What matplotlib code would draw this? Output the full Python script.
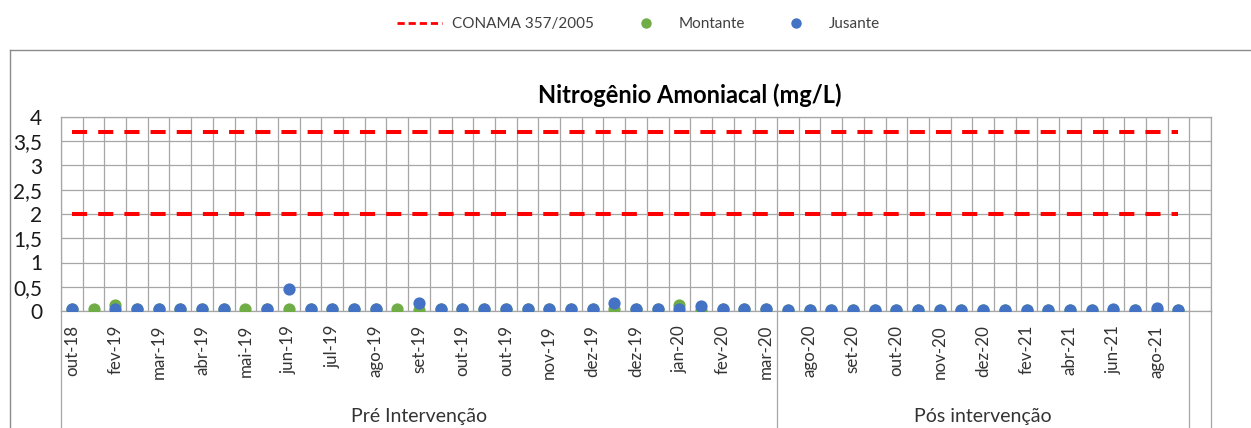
import numpy as np
import matplotlib.pyplot as plt
from matplotlib.lines import Line2D

plt.rcParams['font.family'] = ['Lato', 'DejaVu Sans']

# rótulos visíveis do eixo (Excel mostra um a cada duas campanhas)
tick_labels = ['out-18', 'fev-19', 'mar-19', 'abr-19', 'mai-19', 'jun-19', 'jul-19',
               'ago-19', 'set-19', 'out-19', 'out-19', 'nov-19', 'dez-19', 'dez-19',
               'jan-20', 'fev-20', 'mar-20', 'ago-20', 'set-20', 'out-20', 'nov-20',
               'dez-20', 'fev-21', 'abr-21', 'jun-21', 'ago-21']
groups = ['Pré Intervenção', 'Pós intervenção']
group_sizes = [33, 19]
n_slots = 53  # the sheet has one empty category at the end

nan = np.nan
montante = [0.05, 0.05, 0.12, 0.05, 0.05, 0.05, 0.05, 0.05, 0.05, 0.05,
            0.05, 0.05, 0.05, 0.05, 0.05, 0.05, 0.03, 0.05, 0.05, 0.05,
            0.05, 0.05, 0.05, 0.05, 0.05, 0.05, 0.05, 0.05, 0.12, 0.03,
            0.05, 0.05, 0.05, 0.02, 0.02, 0.02, 0.02, 0.02, 0.02, 0.02,
            0.02, 0.02, 0.02, 0.02, 0.02, 0.02, 0.02, 0.02, 0.02, 0.02,
            0.02, 0.02]
jusante = [0.05, nan, 0.05, 0.05, 0.05, 0.05, 0.05, 0.05, nan, 0.05,
           0.45, 0.05, 0.05, 0.05, 0.05, nan, 0.17, 0.05, 0.05, 0.05,
           0.05, 0.05, 0.05, 0.05, 0.05, 0.17, 0.05, 0.05, 0.05, 0.10,
           0.05, 0.05, 0.05, 0.02, 0.02, 0.02, 0.02, 0.02, 0.02, 0.02,
           0.02, 0.02, 0.02, 0.02, 0.02, 0.02, 0.02, 0.02, 0.05, 0.02,
           0.06, 0.02]
conama_limits = [3.7, 2.0]

W, H = 1251, 428
grid_c = '#A6A6A6'
red = '#FF0000'
green = '#70AD47'
blue = '#4472C4'


def fx(px):
    return px / W


def fy(py):
    return 1 - py / H


fig = plt.figure(figsize=(W / 100, H / 100), dpi=100)
ax = fig.add_axes([fx(61), fy(311), fx(1211) - fx(61), fy(117) - fy(311)])

x = np.arange(len(jusante))
for lim in conama_limits:
    ax.plot(x, [lim] * len(x), color=red, lw=2.9, linestyle=(0, (3.75, 2.75)), zorder=3)
ax.plot(x, montante, 'o', color=green, ms=8.8, mec='none', zorder=4)
ax.plot(x, jusante, 'o', color=blue, ms=8.8, mec='none', zorder=5)

ax.set_xlim(-0.5, n_slots - 0.5)
ax.set_ylim(0, 4)
yt = np.arange(0, 4.01, 0.5)
ax.set_yticks(yt)
ax.set_yticklabels([f'{v:g}'.replace('.', ',') for v in yt])
ax.set_xticks(np.arange(0, 2 * len(tick_labels), 2))
ax.set_xticklabels(tick_labels, rotation=90)
ax.set_xticks(np.arange(-0.5, n_slots), minor=True)
ax.grid(which='minor', axis='x', color=grid_c, lw=0.9)
ax.grid(which='major', axis='y', color=grid_c, lw=0.9)
ax.tick_params(which='both', length=0)
ax.tick_params(axis='y', pad=13.5, labelsize=15, labelcolor='#1a1a1a')
ax.tick_params(axis='x', pad=10, labelsize=12.2, labelcolor='#333333')
for s in ax.spines.values():
    s.set_color(grid_c)
    s.set_linewidth(0.9)
ax.set_axisbelow(True)

# group level of the category axis
trans = ax.get_xaxis_transform()
edges = np.concatenate([[-0.5], -0.5 + np.cumsum(group_sizes), [n_slots - 0.5]])
for b in edges:
    ax.add_line(Line2D([b, b], [0, -0.7], transform=trans, color=grid_c, lw=0.9, clip_on=False))
y_grp = (311 - 416) / (311 - 117)
for name, a, b in zip(groups, edges[:-2], edges[1:-1]):
    ax.text((a + b) / 2, y_grp, name, transform=trans, ha='center', va='center',
            fontsize=14, color='#333333')

# chart area border (cropped on right and bottom)
fig.add_artist(Line2D([fx(9.5), fx(9.5)], [fy(50), 0], transform=fig.transFigure,
                      color='#8C8C8C', lw=1))
fig.add_artist(Line2D([fx(9.5), 1], [fy(50), fy(50)], transform=fig.transFigure,
                      color='#8C8C8C', lw=1))

fig.text(fx(689.5), fy(95), 'Nitrogênio Amoniacal (mg/L)', ha='center', va='center',
         fontsize=17, fontweight='bold', color='black')

handles = [
    Line2D([], [], color=red, lw=2, linestyle=(0, (2.6, 1.4))),
    Line2D([], [], marker='o', color=green, ls='none', ms=7.5, mec='none'),
    Line2D([], [], marker='o', color=blue, ls='none', ms=7.5, mec='none'),
]
fig.legend(handles, ['CONAMA 357/2005', 'Montante', 'Jusante'], loc='center',
           bbox_to_anchor=(fx(638.5), fy(24)), ncol=3, frameon=False, fontsize=11,
           handlelength=2.95, handletextpad=0.65, columnspacing=1.9, labelcolor='#404040')

fig.savefig('out.png', dpi=100)
